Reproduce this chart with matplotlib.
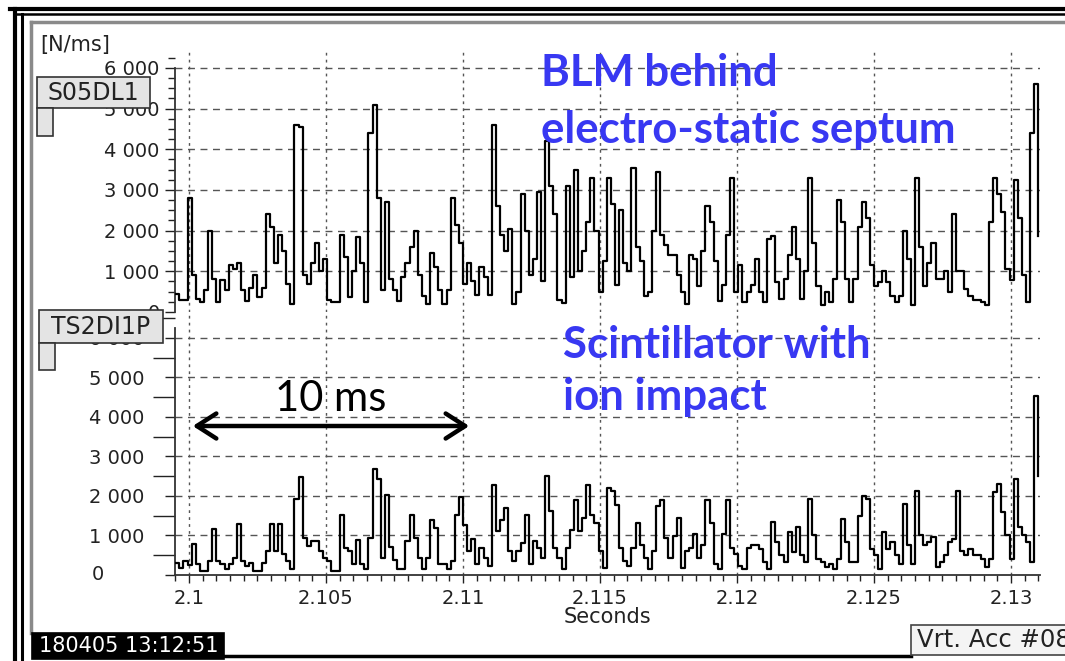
import numpy as np
import matplotlib
matplotlib.use("Agg")
import matplotlib.pyplot as plt
from matplotlib.patches import Rectangle, FancyArrowPatch
from matplotlib.lines import Line2D
from matplotlib.ticker import MultipleLocator, FuncFormatter

# scope sampling (seconds)
t_start = 2.0995
t_step = 0.00015

# S05DL1 - BLM behind electro-static septum [N/ms]
blm = [450, 300, 300, 2800, 900, 330, 250, 550, 2000, 800,
       250, 780, 530, 1150, 1050, 1200, 530, 280, 600, 900,
       370, 600, 2400, 2100, 1200, 1900, 1500, 700, 200, 4600,
       4550, 900, 700, 1200, 1700, 1000, 1300, 300, 250, 250,
       1900, 1350, 370, 1000, 1850, 1200, 250, 4400, 5100, 2800,
       550, 2700, 800, 530, 280, 860, 1200, 1600, 2000, 900,
       400, 200, 1450, 1100, 530, 200, 530, 2800, 2150, 1700,
       700, 1200, 750, 430, 1100, 850, 430, 4600, 2600, 1900,
       1500, 2050, 200, 500, 2900, 2000, 900, 1300, 2950, 750,
       4200, 3100, 2400, 300, 220, 3100, 850, 3500, 1000, 1500,
       2200, 3300, 2000, 500, 1250, 3300, 2650, 670, 2500, 1200,
       1000, 3550, 1600, 1250, 400, 500, 2000, 3450, 1900, 1650,
       1400, 1400, 900, 500, 200, 1400, 1300, 650, 1500, 2600,
       2200, 1250, 260, 670, 1900, 3300, 500, 1150, 250, 500,
       670, 1300, 500, 250, 1800, 1870, 730, 330, 800, 1400,
       2100, 1300, 330, 1000, 3300, 1700, 650, 160, 500, 250,
       800, 2750, 2200, 800, 250, 800, 2100, 2700, 2300, 1150,
       650, 730, 1000, 730, 400, 250, 400, 2000, 1300, 160,
       3300, 1600, 650, 1200, 1700, 800, 800, 1000, 500, 2400,
       1000, 1000, 570, 400, 300, 300, 250, 160, 2200, 3300,
       2900, 2450, 1050, 780, 3250, 2300, 900, 250, 4400, 5600,
       1870]

# TS2DI1P - scintillator with ion impact [N/ms]
scint = [300, 180, 350, 250, 780, 270, 100, 100, 350, 1170,
         350, 270, 140, 270, 430, 1280, 350, 230, 300, 100,
         100, 300, 600, 1280, 600, 1280, 520, 350, 140, 1930,
         2480, 930, 730, 850, 850, 600, 430, 350, 100, 100,
         1520, 680, 600, 270, 890, 270, 140, 930, 2680, 2430,
         430, 2020, 700, 390, 140, 140, 850, 1520, 930, 430,
         140, 430, 1390, 1180, 270, 270, 140, 350, 1520, 1980,
         1270, 600, 920, 270, 690, 440, 230, 2290, 1110, 1400,
         1700, 600, 350, 600, 820, 1530, 270, 860, 690, 440,
         2500, 1610, 690, 440, 140, 690, 1150, 1900, 1110, 1450,
         2290, 1530, 1320, 600, 180, 2200, 2120, 1780, 690, 350,
         230, 690, 1320, 770, 440, 140, 600, 1740, 1900, 940,
         440, 980, 1450, 180, 600, 690, 1030, 440, 770, 1900,
         1320, 270, 140, 1030, 1900, 690, 520, 230, 140, 690,
         770, 770, 660, 330, 160, 1340, 830, 500, 330, 1080,
         580, 1210, 500, 330, 1920, 1000, 410, 330, 200, 290,
         160, 410, 1420, 830, 330, 330, 1500, 2000, 1920, 660,
         500, 160, 1080, 660, 830, 500, 290, 1800, 750, 290,
         2130, 1000, 750, 830, 960, 200, 330, 500, 830, 920,
         2130, 620, 500, 660, 500, 500, 410, 200, 410, 2090,
         2300, 1590, 1000, 410, 2430, 1210, 1000, 830, 330, 4530,
         2510]

x_ticks = [2.1, 2.105, 2.11, 2.115, 2.12, 2.125, 2.13]
x_labels = ["2.1", "2.105", "2.11", "2.115", "2.12", "2.125", "2.13"]
y_ticks = [0, 1000, 2000, 3000, 4000, 5000, 6000]

W, H = 1065, 661


def px(x, y):
    # pixel position (top-left origin) -> figure fraction
    return x / W, 1 - y / H


def yfmt(v, pos):
    return "{:,}".format(int(v)).replace(",", " ")


fig = plt.figure(figsize=(W / 100, H / 100), dpi=100)
fig.patch.set_facecolor("white")

ax1 = fig.add_axes([175 / W, 1 - 312 / H, 865 / W, 262 / H])
ax2 = fig.add_axes([175 / W, 1 - 575 / H, 865 / W, 263 / H])

t = t_start + t_step * np.arange(len(blm))
xlim = (2.09949, 2.13106)
grid_c = "#555555"
txt_c = "#222222"

for ax, vals, top in [(ax1, blm, 6440), (ax2, scint, 6658)]:
    ax.set_xlim(*xlim)
    ax.set_ylim(0, top)
    ax.set_facecolor("none")
    for v in y_ticks[1:]:
        ax.axhline(v, color=grid_c, lw=1.0, ls=(0, (5, 4)), zorder=1)
    for v in x_ticks:
        ax.axvline(v, color=grid_c, lw=1.0, ls=(0, (2, 3)), zorder=1)
    ax.step(t, vals, where="post", color="black", lw=1.6, zorder=3)
    ax.spines["top"].set_visible(False)
    ax.spines["right"].set_visible(False)
    ax.spines["left"].set_color("#333333")
    ax.spines["left"].set_linewidth(1.3)
    ax.set_yticks(y_ticks)
    ax.yaxis.set_major_formatter(FuncFormatter(yfmt))

# upper panel
ax1.spines["bottom"].set_visible(False)
ax1.spines["left"].set_bounds(0, 6000)
ax1.set_xticks([])
ax1.yaxis.set_minor_locator(MultipleLocator(250))
ax1.tick_params(axis="y", which="major", length=7, width=1, pad=4,
                labelsize=14, colors=txt_c)
ax1.tick_params(axis="y", which="minor", length=5, width=1, colors=txt_c)

# lower panel
ax2.spines["left"].set_bounds(0, 6250)
ax2.spines["bottom"].set_color("#333333")
ax2.spines["bottom"].set_linewidth(1.3)
ax2.yaxis.set_minor_locator(MultipleLocator(500))
ax2.tick_params(axis="y", which="major", length=7, width=1, pad=15,
                labelsize=14, colors=txt_c)
ax2.tick_params(axis="y", which="minor", length=16, width=1, colors=txt_c)
ax2.set_yticklabels([""] + [yfmt(v, None) for v in y_ticks[1:]])
ax2.set_xticks(x_ticks)
ax2.set_xticklabels(x_labels)
ax2.xaxis.set_minor_locator(MultipleLocator(0.0005))
ax2.tick_params(axis="x", which="major", length=6, width=1, pad=4,
                labelsize=14, colors=txt_c)
ax2.tick_params(axis="x", which="minor", length=4, width=1, colors=txt_c)

fig.text(*px(98, 575), "0", ha="center", va="center", fontsize=14, color=txt_c)
fig.text(*px(607, 617), "Seconds", ha="center", va="center", fontsize=15, color=txt_c)
fig.text(*px(40, 45), "[N/ms]", ha="left", va="center", fontsize=15, color=txt_c)


def box(x0, y0, x1, y1, fc, ec="#333333", lw=1.2, z=10):
    r = Rectangle(px(x0, y1), (x1 - x0) / W, (y1 - y0) / H,
                  transform=fig.transFigure, facecolor=fc, edgecolor=ec,
                  lw=lw, zorder=z)
    fig.add_artist(r)


def fline(xs, ys, c, lw):
    fig.add_artist(Line2D([x / W for x in xs], [1 - y / H for y in ys],
                          transform=fig.transFigure, color=c, lw=lw, zorder=9))


# channel name tags
box(37, 77, 150, 108, "#e4e4e4")
box(37, 108, 53, 136, "#e4e4e4")
fig.text(*px(93, 93), "S05DL1", ha="center", va="center", fontsize=17,
         color=txt_c, zorder=11)
box(39, 310, 163, 343, "#e4e4e4")
box(39, 343, 55, 370, "#e4e4e4")
fig.text(*px(101, 327), "TS2DI1P", ha="center", va="center", fontsize=17,
         color=txt_c, zorder=11)

# screen frame
fline([10, 1065], [9, 9], "black", 3.0)
fline([14, 1065], [14, 14], "black", 1.8)
fline([15, 15], [9, 661], "black", 3.0)
fline([22, 22], [14, 661], "black", 2.2)
fline([31, 1065], [22, 22], "#8a8a8a", 2.5)
fline([31, 31], [22, 633], "#8a8a8a", 2.5)
fline([224, 911], [656, 656], "black", 2.5)

# status boxes
box(32, 633, 224, 659, "black", ec="black")
fig.text(*px(129, 646), "180405 13:12:51", ha="center", va="center",
         fontsize=15, color="white", zorder=11)
box(911, 625, 1070, 655, "#f4f4f4", ec="#444444")
fig.text(*px(917, 640), "Vrt. Acc #08", ha="left", va="center",
         fontsize=17.5, color=txt_c, zorder=11)

# annotations
blue = "#3838f2"
for (x, y), s in [((541, 86), "BLM behind"),
                  ((541, 143), "electro-static septum"),
                  ((563, 358), "Scintillator with"),
                  ((563, 410), "ion impact")]:
    fig.text(*px(x, y), s, ha="left", va="baseline", fontsize=31.5,
             fontweight="bold", family="Lato", color=blue, zorder=12)
fig.text(*px(275, 411), "10 ms", ha="left", va="baseline", fontsize=30,
         family="Lato", color="black", zorder=12)
fig.add_artist(FancyArrowPatch(
    px(190, 426), px(472, 426), transform=fig.transFigure,
    arrowstyle="<->,head_length=0.7,head_width=0.45", mutation_scale=20,
    lw=3.2, color="black", zorder=12))

fig.savefig("out.png", dpi=100)
